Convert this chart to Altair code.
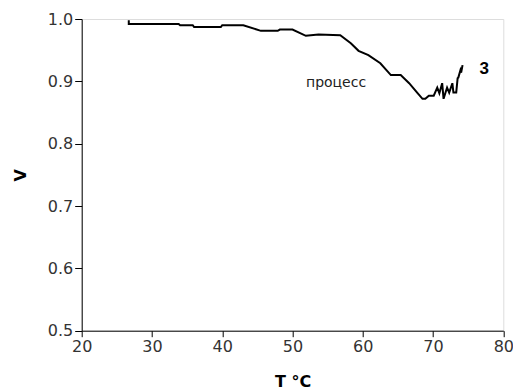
import altair as alt
import pandas as pd

T = [26.7, 26.7, 33.8, 34.0, 35.8, 36.0, 39.8, 40.0, 43.0, 45.5, 47.9, 48.2, 50.0,
     51.9, 53.7, 56.8, 58.3, 59.4, 60.8, 62.5, 64.0, 65.4, 66.6, 67.8, 68.5, 68.9,
     69.4, 70.1, 70.6, 70.9, 71.3, 71.5, 72.0, 72.3, 72.75, 72.9, 73.3, 73.5, 73.6,
     73.9, 74.0, 74.2]
V = [0.998, 0.992, 0.992, 0.990, 0.990, 0.987, 0.987, 0.990, 0.990, 0.981, 0.981,
     0.983, 0.983, 0.973, 0.975, 0.974, 0.961, 0.949, 0.942, 0.929, 0.910, 0.910,
     0.897, 0.881, 0.872, 0.872, 0.877, 0.877, 0.890, 0.881, 0.897, 0.872, 0.890,
     0.882, 0.897, 0.882, 0.882, 0.905, 0.906, 0.918, 0.914, 0.926]

note_text = ["процесс"]
note_T = [56.2]
note_V = [0.898]
curve_label = ["3"]
curve_label_T = [77.3]
curve_label_V = [0.920]

x_ticks = [20, 25, 30, 35, 40, 45, 50, 55, 60, 65, 70, 75, 80]
y_ticks = [0.5, 0.55, 0.6, 0.65, 0.7, 0.75, 0.8, 0.85, 0.9, 0.95, 1.0]

df = pd.DataFrame({"T": T, "V": V, "order": list(range(len(T)))})
note_df = pd.DataFrame({"text": note_text, "T": note_T, "V": note_V})
lab_df = pd.DataFrame({"text": curve_label, "T": curve_label_T, "V": curve_label_V})

FONT = "DejaVu Sans"
xscale = alt.Scale(domain=[20, 80], nice=False, zero=False)
yscale = alt.Scale(domain=[0.5, 1.0], nice=False, zero=False)

x_major = "abs(datum.value/10 - round(datum.value/10)) < 0.01"
y_major = "abs(datum.value*10 - round(datum.value*10)) < 0.01"

line = alt.Chart(df).mark_line(color="black", strokeWidth=2, strokeJoin="miter", clip=False).encode(
    x=alt.X("T:Q", scale=xscale,
            axis=alt.Axis(values=x_ticks, title="T °C", grid=False,
                          labelExpr=x_major + " ? format(datum.value, 'd') : ''",
                          tickSize={"condition": {"test": x_major, "value": 6}, "value": 3},
                          domainColor="black", tickColor="black",
                          labelFont=FONT, labelFontSize=16, labelColor="#333",
                          labelPadding=2, labelFlush=False, labelOverlap=False,
                          titleFont=FONT, titleFontSize=16,
                          titleFontWeight="bold", titleColor="black", titlePadding=19)),
    y=alt.Y("V:Q", scale=yscale,
            axis=alt.Axis(values=y_ticks, title="V", grid=False,
                          labelExpr=y_major + " ? format(datum.value, '.1f') : ''",
                          tickSize={"condition": {"test": y_major, "value": 7}, "value": 4},
                          domainColor="black", tickColor="black",
                          labelFont=FONT, labelFontSize=16, labelColor="#333",
                          labelPadding=2, labelFlush=False, labelOverlap=False,
                          titleFont=FONT, titleFontSize=16,
                          titleFontWeight="bold", titleColor="black", titlePadding=19)),
    order="order:Q",
)

note = alt.Chart(note_df).mark_text(font=FONT, fontSize=14, color="#222").encode(
    x=alt.X("T:Q", scale=xscale),
    y=alt.Y("V:Q", scale=yscale),
    text="text:N",
)
curve_lab = alt.Chart(lab_df).mark_text(font="Liberation Sans", fontSize=17, fontWeight="bold",
                                        color="black").encode(
    x=alt.X("T:Q", scale=xscale),
    y=alt.Y("V:Q", scale=yscale),
    text="text:N",
)

chart = alt.layer(line, note, curve_lab).properties(
    width=421.6, height=311.7,
    autosize=alt.AutoSizeParams(type="none"),
    padding={"left": 81.7, "top": 19, "right": 9.7, "bottom": 60.3},
).configure_view(stroke=None).configure(background="white")

chart.save("out.html", embed_options={"renderer": "svg", "actions": False})
